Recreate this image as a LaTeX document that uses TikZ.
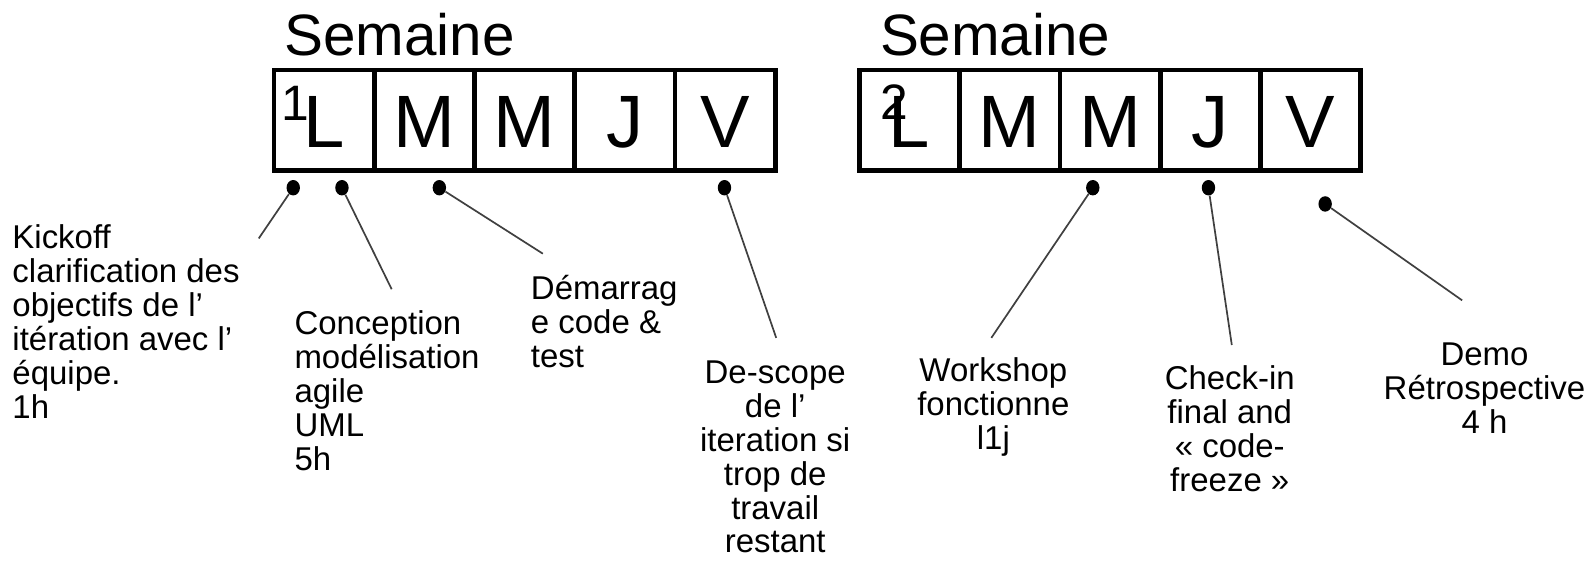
\documentclass[tikz,border=0pt]{standalone}
\usepackage{fontspec}
\setmainfont{Liberation Sans}
\usepackage{tikz}
\usetikzlibrary{shapes.geometric}

\begin{document}
\begin{tikzpicture}[x=0.025cm, y=-0.025cm, node distance=2.47cm]
    % Define styles
    \tikzstyle{day} = [rectangle, draw, line width=3.3pt, outer sep=0pt, inner sep=0pt, minimum width=2.47cm, minimum height=2.475cm, text height=37.7pt, text depth=0pt, font=\fontsize{52pt}{60pt}\selectfont]
    \tikzstyle{weektitle} = [inner sep=0pt, anchor=base west, font=\fontsize{40.9pt}{48pt}\selectfont]
    \tikzstyle{weeknum} = [inner sep=0pt, font=\fontsize{34.9pt}{40pt}\selectfont]
    \tikzstyle{bullet} = [ellipse, fill=black, inner sep=0pt, minimum width=0.33cm, minimum height=0.38cm]
    \tikzstyle{note} = [inner sep=0pt, font=\fontsize{23.1pt}{23.8pt}\selectfont]
    \tikzstyle{link} = [draw=black!75, line width=1.2pt]

    \useasboundingbox (0,0) rectangle (1568,560);

    % Week 1
    \node [weektitle] (sem1) at (280,55) {Semaine};
    \node [day] (l1) at (319.4,118.5) {L};
    \node [day, right of=l1] (ma1) {M};
    \node [day, right of=ma1] (me1) {M};
    \node [day, right of=me1] (j1) {J};
    \node [day, right of=j1] (v1) {V};
    \node [weeknum] (n1) at (291,102) {1};

    % Week 2
    \node [weektitle] (sem2) at (867,55) {Semaine};
    \node [day] (l2) at (896.4,118.5) {L};
    \node [day, right of=l2] (ma2) {M};
    \node [day, right of=ma2] (me2) {M};
    \node [day, right of=me2] (j2) {J};
    \node [day, right of=j2] (v2) {V};
    \node [weeknum] (n2) at (881,101) {2};

    % Markers
    \node [bullet] (p1) at (289,185) {};
    \node [bullet] (p2) at (337,185) {};
    \node [bullet] (p3) at (433,185) {};
    \node [bullet] (p4) at (714,185) {};
    \node [bullet] (p5) at (1077,185) {};
    \node [bullet] (p6) at (1191,185) {};
    \node [bullet] (p7) at (1306,201) {};

    % Notes
    \node [note, anchor=north west, align=left] (kickoff) at (12,221) {Kickoff\\clarification des\\objectifs de l’\\itération avec l’\\équipe.\\1h};
    \node [note, anchor=north west, align=left] (conception) at (290,306) {Conception\\modélisation\\agile\\UML\\5h};
    \node [note, anchor=north west, align=left] (demarrage) at (523,271) {Démarrag\\e code \&\\test};
    \node [note, anchor=north, align=center] (descope) at (764,355) {De-scope\\de l’\\iteration si\\trop de\\travail\\restant};
    \node [note, anchor=north, align=center] (workshop) at (979,352) {Workshop\\fonctionne\\l1j};
    \node [note, anchor=north, align=center] (checkin) at (1212,360) {Check-in\\final and\\« code-\\freeze »};
    \node [note, anchor=north, align=center] (demo) at (1463,338) {Demo\\Rétrospective\\4 h};

    % Leader lines
    \coordinate (e1) at (255,235);
    \coordinate (e2) at (386,285);
    \coordinate (e3) at (535,250);
    \coordinate (e4) at (765,333);
    \coordinate (e5) at (977,333);
    \coordinate (e6) at (1214,340);
    \coordinate (e7) at (1441,296);
    \draw [link] (p1) -- (e1);
    \draw [link] (p2) -- (e2);
    \draw [link] (p3) -- (e3);
    \draw [link] (p4) -- (e4);
    \draw [link] (p5) -- (e5);
    \draw [link] (p6) -- (e6);
    \draw [link] (p7) -- (e7);
\end{tikzpicture}
\end{document}
